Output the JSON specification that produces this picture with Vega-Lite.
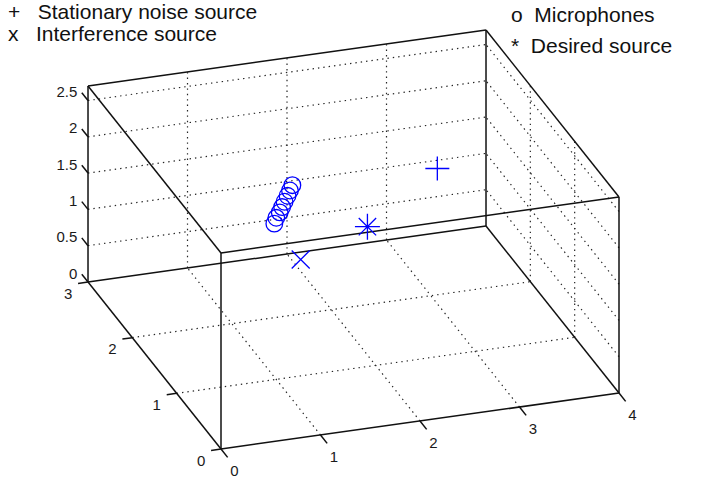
{
  "$schema": "https://vega.github.io/schema/vega-lite/v6.json",
  "width": 705,
  "height": 480,
  "autosize": {"type": "none"},
  "padding": 0,
  "background": "white",
  "config": {"view": {"stroke": null}},
  "datasets": {
    "segments": [
      {"kind": "grid", "x1": 1, "y1": 0, "z1": 0, "x2": 1, "y2": 3, "z2": 0},
      {"kind": "grid", "x1": 2, "y1": 0, "z1": 0, "x2": 2, "y2": 3, "z2": 0},
      {"kind": "grid", "x1": 3, "y1": 0, "z1": 0, "x2": 3, "y2": 3, "z2": 0},
      {"kind": "grid", "x1": 0, "y1": 1, "z1": 0, "x2": 4, "y2": 1, "z2": 0},
      {"kind": "grid", "x1": 0, "y1": 2, "z1": 0, "x2": 4, "y2": 2, "z2": 0},
      {"kind": "grid", "x1": 1, "y1": 3, "z1": 0, "x2": 1, "y2": 3, "z2": 2.7},
      {"kind": "grid", "x1": 2, "y1": 3, "z1": 0, "x2": 2, "y2": 3, "z2": 2.7},
      {"kind": "grid", "x1": 3, "y1": 3, "z1": 0, "x2": 3, "y2": 3, "z2": 2.7},
      {"kind": "grid", "x1": 0, "y1": 3, "z1": 0.5, "x2": 4, "y2": 3, "z2": 0.5},
      {"kind": "grid", "x1": 0, "y1": 3, "z1": 1, "x2": 4, "y2": 3, "z2": 1},
      {"kind": "grid", "x1": 0, "y1": 3, "z1": 1.5, "x2": 4, "y2": 3, "z2": 1.5},
      {"kind": "grid", "x1": 0, "y1": 3, "z1": 2, "x2": 4, "y2": 3, "z2": 2},
      {"kind": "grid", "x1": 0, "y1": 3, "z1": 2.5, "x2": 4, "y2": 3, "z2": 2.5},
      {"kind": "grid", "x1": 4, "y1": 1, "z1": 0, "x2": 4, "y2": 1, "z2": 2.7},
      {"kind": "grid", "x1": 4, "y1": 2, "z1": 0, "x2": 4, "y2": 2, "z2": 2.7},
      {"kind": "grid", "x1": 4, "y1": 0, "z1": 0.5, "x2": 4, "y2": 3, "z2": 0.5},
      {"kind": "grid", "x1": 4, "y1": 0, "z1": 1, "x2": 4, "y2": 3, "z2": 1},
      {"kind": "grid", "x1": 4, "y1": 0, "z1": 1.5, "x2": 4, "y2": 3, "z2": 1.5},
      {"kind": "grid", "x1": 4, "y1": 0, "z1": 2, "x2": 4, "y2": 3, "z2": 2},
      {"kind": "grid", "x1": 4, "y1": 0, "z1": 2.5, "x2": 4, "y2": 3, "z2": 2.5},
      {"kind": "edge", "x1": 0, "y1": 0, "z1": 0, "x2": 4, "y2": 0, "z2": 0},
      {"kind": "edge", "x1": 0, "y1": 0, "z1": 0, "x2": 0, "y2": 3, "z2": 0},
      {"kind": "edge", "x1": 0, "y1": 3, "z1": 0, "x2": 0, "y2": 3, "z2": 2.7},
      {"kind": "edge", "x1": 4, "y1": 0, "z1": 0, "x2": 4, "y2": 3, "z2": 0},
      {"kind": "edge", "x1": 0, "y1": 3, "z1": 0, "x2": 4, "y2": 3, "z2": 0},
      {"kind": "edge", "x1": 4, "y1": 0, "z1": 0, "x2": 4, "y2": 0, "z2": 2.7},
      {"kind": "edge", "x1": 4, "y1": 3, "z1": 0, "x2": 4, "y2": 3, "z2": 2.7},
      {"kind": "edge", "x1": 0, "y1": 0, "z1": 0, "x2": 0, "y2": 0, "z2": 2.7},
      {"kind": "edge", "x1": 0, "y1": 0, "z1": 2.7, "x2": 4, "y2": 0, "z2": 2.7},
      {"kind": "edge", "x1": 0, "y1": 3, "z1": 2.7, "x2": 4, "y2": 3, "z2": 2.7},
      {"kind": "edge", "x1": 0, "y1": 0, "z1": 2.7, "x2": 0, "y2": 3, "z2": 2.7},
      {"kind": "edge", "x1": 4, "y1": 0, "z1": 2.7, "x2": 4, "y2": 3, "z2": 2.7}
    ],
    "ticks": [
      {"axis": "x", "value": 0, "label": "0"},
      {"axis": "x", "value": 1, "label": "1"},
      {"axis": "x", "value": 2, "label": "2"},
      {"axis": "x", "value": 3, "label": "3"},
      {"axis": "x", "value": 4, "label": "4"},
      {"axis": "y", "value": 0, "label": "0"},
      {"axis": "y", "value": 1, "label": "1"},
      {"axis": "y", "value": 2, "label": "2"},
      {"axis": "y", "value": 3, "label": "3"},
      {"axis": "z", "value": 0, "label": "0"},
      {"axis": "z", "value": 0.5, "label": "0.5"},
      {"axis": "z", "value": 1, "label": "1"},
      {"axis": "z", "value": 1.5, "label": "1.5"},
      {"axis": "z", "value": 2, "label": "2"},
      {"axis": "z", "value": 2.5, "label": "2.5"}
    ],
    "points": [
      {"type": "Microphones", "x": 1.32, "y": 1.76, "z": 1.5},
      {"type": "Microphones", "x": 1.38, "y": 1.85, "z": 1.5},
      {"type": "Microphones", "x": 1.45, "y": 1.93, "z": 1.5},
      {"type": "Microphones", "x": 1.51, "y": 2.01, "z": 1.5},
      {"type": "Microphones", "x": 1.57, "y": 2.09, "z": 1.5},
      {"type": "Microphones", "x": 1.64, "y": 2.18, "z": 1.5},
      {"type": "Microphones", "x": 1.70, "y": 2.26, "z": 1.5},
      {"type": "Microphones", "x": 1.76, "y": 2.34, "z": 1.5},
      {"type": "Desired source", "x": 2.14, "y": 1.50, "z": 1.5},
      {"type": "Interference source", "x": 1.30, "y": 1.12, "z": 1.5},
      {"type": "Stationary noise source", "x": 3.19, "y": 2.28, "z": 1.5}
    ]
  },
  "layer": [
    {
      "data": {"name": "segments"},
      "transform": [
        {"filter": "datum.kind == 'grid'"},
        {"calculate": "221 + 99.5*datum.x1 - 44.33*datum.y1", "as": "sx1"},
        {"calculate": "449 - 14*datum.x1 - 55.67*datum.y1 - 72.6*datum.z1", "as": "sy1"},
        {"calculate": "221 + 99.5*datum.x2 - 44.33*datum.y2", "as": "sx2"},
        {"calculate": "449 - 14*datum.x2 - 55.67*datum.y2 - 72.6*datum.z2", "as": "sy2"}
      ],
      "mark": {"type": "rule", "color": "#262626", "strokeWidth": 1.2, "strokeDash": [1.4, 4]},
      "encoding": {
        "x": {"field": "sx1", "type": "quantitative", "scale": {"domain": [0, 705], "nice": false, "zero": false}, "axis": null},
        "y": {"field": "sy1", "type": "quantitative", "scale": {"domain": [0, 480], "nice": false, "zero": false, "reverse": true}, "axis": null},
        "x2": {"field": "sx2"},
        "y2": {"field": "sy2"}
      }
    },
    {
      "data": {"name": "segments"},
      "transform": [
        {"filter": "datum.kind == 'edge'"},
        {"calculate": "221 + 99.5*datum.x1 - 44.33*datum.y1", "as": "sx1"},
        {"calculate": "449 - 14*datum.x1 - 55.67*datum.y1 - 72.6*datum.z1", "as": "sy1"},
        {"calculate": "221 + 99.5*datum.x2 - 44.33*datum.y2", "as": "sx2"},
        {"calculate": "449 - 14*datum.x2 - 55.67*datum.y2 - 72.6*datum.z2", "as": "sy2"}
      ],
      "mark": {"type": "rule", "color": "#111111", "strokeWidth": 1.5},
      "encoding": {
        "x": {"field": "sx1", "type": "quantitative"},
        "y": {"field": "sy1", "type": "quantitative"},
        "x2": {"field": "sx2"},
        "y2": {"field": "sy2"}
      }
    },
    {
      "data": {"name": "ticks"},
      "transform": [
        {"calculate": "datum.axis == 'x' ? datum.value : 0", "as": "tx1"},
        {"calculate": "datum.axis == 'y' ? datum.value : (datum.axis == 'z' ? 3 : 0)", "as": "ty1"},
        {"calculate": "datum.axis == 'z' ? datum.value : 0", "as": "tz1"},
        {"calculate": "datum.axis == 'y' ? -0.1 : datum.tx1", "as": "tx2"},
        {"calculate": "datum.axis == 'x' ? -0.15 : (datum.axis == 'z' ? 3.14 : datum.ty1)", "as": "ty2"},
        {"calculate": "221 + 99.5*datum.tx1 - 44.33*datum.ty1", "as": "sx1"},
        {"calculate": "449 - 14*datum.tx1 - 55.67*datum.ty1 - 72.6*datum.tz1", "as": "sy1"},
        {"calculate": "221 + 99.5*datum.tx2 - 44.33*datum.ty2", "as": "sx2"},
        {"calculate": "449 - 14*datum.tx2 - 55.67*datum.ty2 - 72.6*datum.tz1", "as": "sy2"}
      ],
      "mark": {"type": "rule", "color": "#111111", "strokeWidth": 1.5},
      "encoding": {
        "x": {"field": "sx1", "type": "quantitative"},
        "y": {"field": "sy1", "type": "quantitative"},
        "x2": {"field": "sx2"},
        "y2": {"field": "sy2"}
      }
    },
    {
      "data": {"name": "ticks"},
      "transform": [
        {"filter": "datum.axis == 'x'"},
        {"calculate": "221 + 99.5*datum.value - 44.33*(-0.3)", "as": "sx"},
        {"calculate": "449 - 14*datum.value - 55.67*(-0.3)", "as": "sy"}
      ],
      "mark": {"type": "text", "font": "Liberation Sans", "fontSize": 15, "color": "#1a1a1a", "align": "center", "baseline": "middle", "dy": 5},
      "encoding": {
        "x": {"field": "sx", "type": "quantitative"},
        "y": {"field": "sy", "type": "quantitative"},
        "text": {"field": "label"}
      }
    },
    {
      "data": {"name": "ticks"},
      "transform": [
        {"filter": "datum.axis == 'y'"},
        {"calculate": "221 + 99.5*(-0.2) - 44.33*datum.value", "as": "sx"},
        {"calculate": "449 - 14*(-0.2) - 55.67*datum.value", "as": "sy"}
      ],
      "mark": {"type": "text", "font": "Liberation Sans", "fontSize": 15, "color": "#1a1a1a", "align": "center", "baseline": "middle", "dy": 9},
      "encoding": {
        "x": {"field": "sx", "type": "quantitative"},
        "y": {"field": "sy", "type": "quantitative"},
        "text": {"field": "label"}
      }
    },
    {
      "data": {"name": "ticks"},
      "transform": [
        {"filter": "datum.axis == 'z'"},
        {"calculate": "221 - 44.33*3.15", "as": "sx"},
        {"calculate": "449 - 55.67*3.15 - 72.6*datum.value", "as": "sy"}
      ],
      "mark": {"type": "text", "font": "Liberation Sans", "fontSize": 15, "color": "#1a1a1a", "align": "right", "baseline": "middle", "dx": -4},
      "encoding": {
        "x": {"field": "sx", "type": "quantitative"},
        "y": {"field": "sy", "type": "quantitative"},
        "text": {"field": "label"}
      }
    },
    {
      "data": {"name": "points"},
      "transform": [
        {"calculate": "221 + 99.5*datum.x - 44.33*datum.y", "as": "sx"},
        {"calculate": "449 - 14*datum.x - 55.67*datum.y - 72.6*datum.z", "as": "sy"}
      ],
      "mark": {"type": "point", "filled": false, "size": 4, "strokeWidth": 1.3, "opacity": 1},
      "encoding": {
        "x": {"field": "sx", "type": "quantitative"},
        "y": {"field": "sy", "type": "quantitative"},
        "shape": {
          "field": "type",
          "type": "nominal",
          "scale": {
            "domain": ["Microphones", "Desired source", "Stationary noise source", "Interference source"],
            "range": [
              "M8.3,0A8.3,8.3,0,1,1,-8.3,0A8.3,8.3,0,1,1,8.3,0Z",
              "M-12.5,0L12.5,0M0,-13L0,13M-8.7,-8.7L8.7,8.7M-8.7,8.7L8.7,-8.7",
              "M-12,0L12,0M0,-12L0,12",
              "M-9,-9L9,9M-9,9L9,-9"
            ]
          },
          "legend": {
            "orient": "none",
            "legendX": 490,
            "legendY": 5,
            "values": ["Microphones", "Desired source"],
            "title": null,
            "padding": 0,
            "labelExpr": "(datum.value == 'Microphones' ? 'o' : '*') + '\u00a0\u00a0' + datum.value",
            "labelFont": "Liberation Sans",
            "labelFontSize": 21,
            "labelColor": "#111111",
            "labelLimit": 400,
            "labelOffset": 0,
            "symbolOpacity": 0,
            "symbolSize": 0,
            "symbolStrokeWidth": 0,
            "rowPadding": 9
          }
        },
        "color": {
          "field": "type",
          "type": "nominal",
          "scale": {
            "domain": ["Stationary noise source", "Interference source", "Microphones", "Desired source"],
            "range": ["#0000ff", "#0000ff", "#0000ff", "#0000ff"]
          },
          "legend": {
            "orient": "none",
            "legendX": -13,
            "legendY": 2,
            "values": ["Stationary noise source", "Interference source"],
            "title": null,
            "padding": 0,
            "labelExpr": "(datum.value == 'Stationary noise source' ? '+' : 'x') + '\u00a0\u00a0\u00a0' + datum.value",
            "labelFont": "Liberation Sans",
            "labelFontSize": 21,
            "labelColor": "#111111",
            "labelLimit": 400,
            "labelOffset": 0,
            "symbolOpacity": 0,
            "symbolSize": 0,
            "symbolStrokeWidth": 0,
            "rowPadding": 0
          }
        }
      }
    }
  ]
}
